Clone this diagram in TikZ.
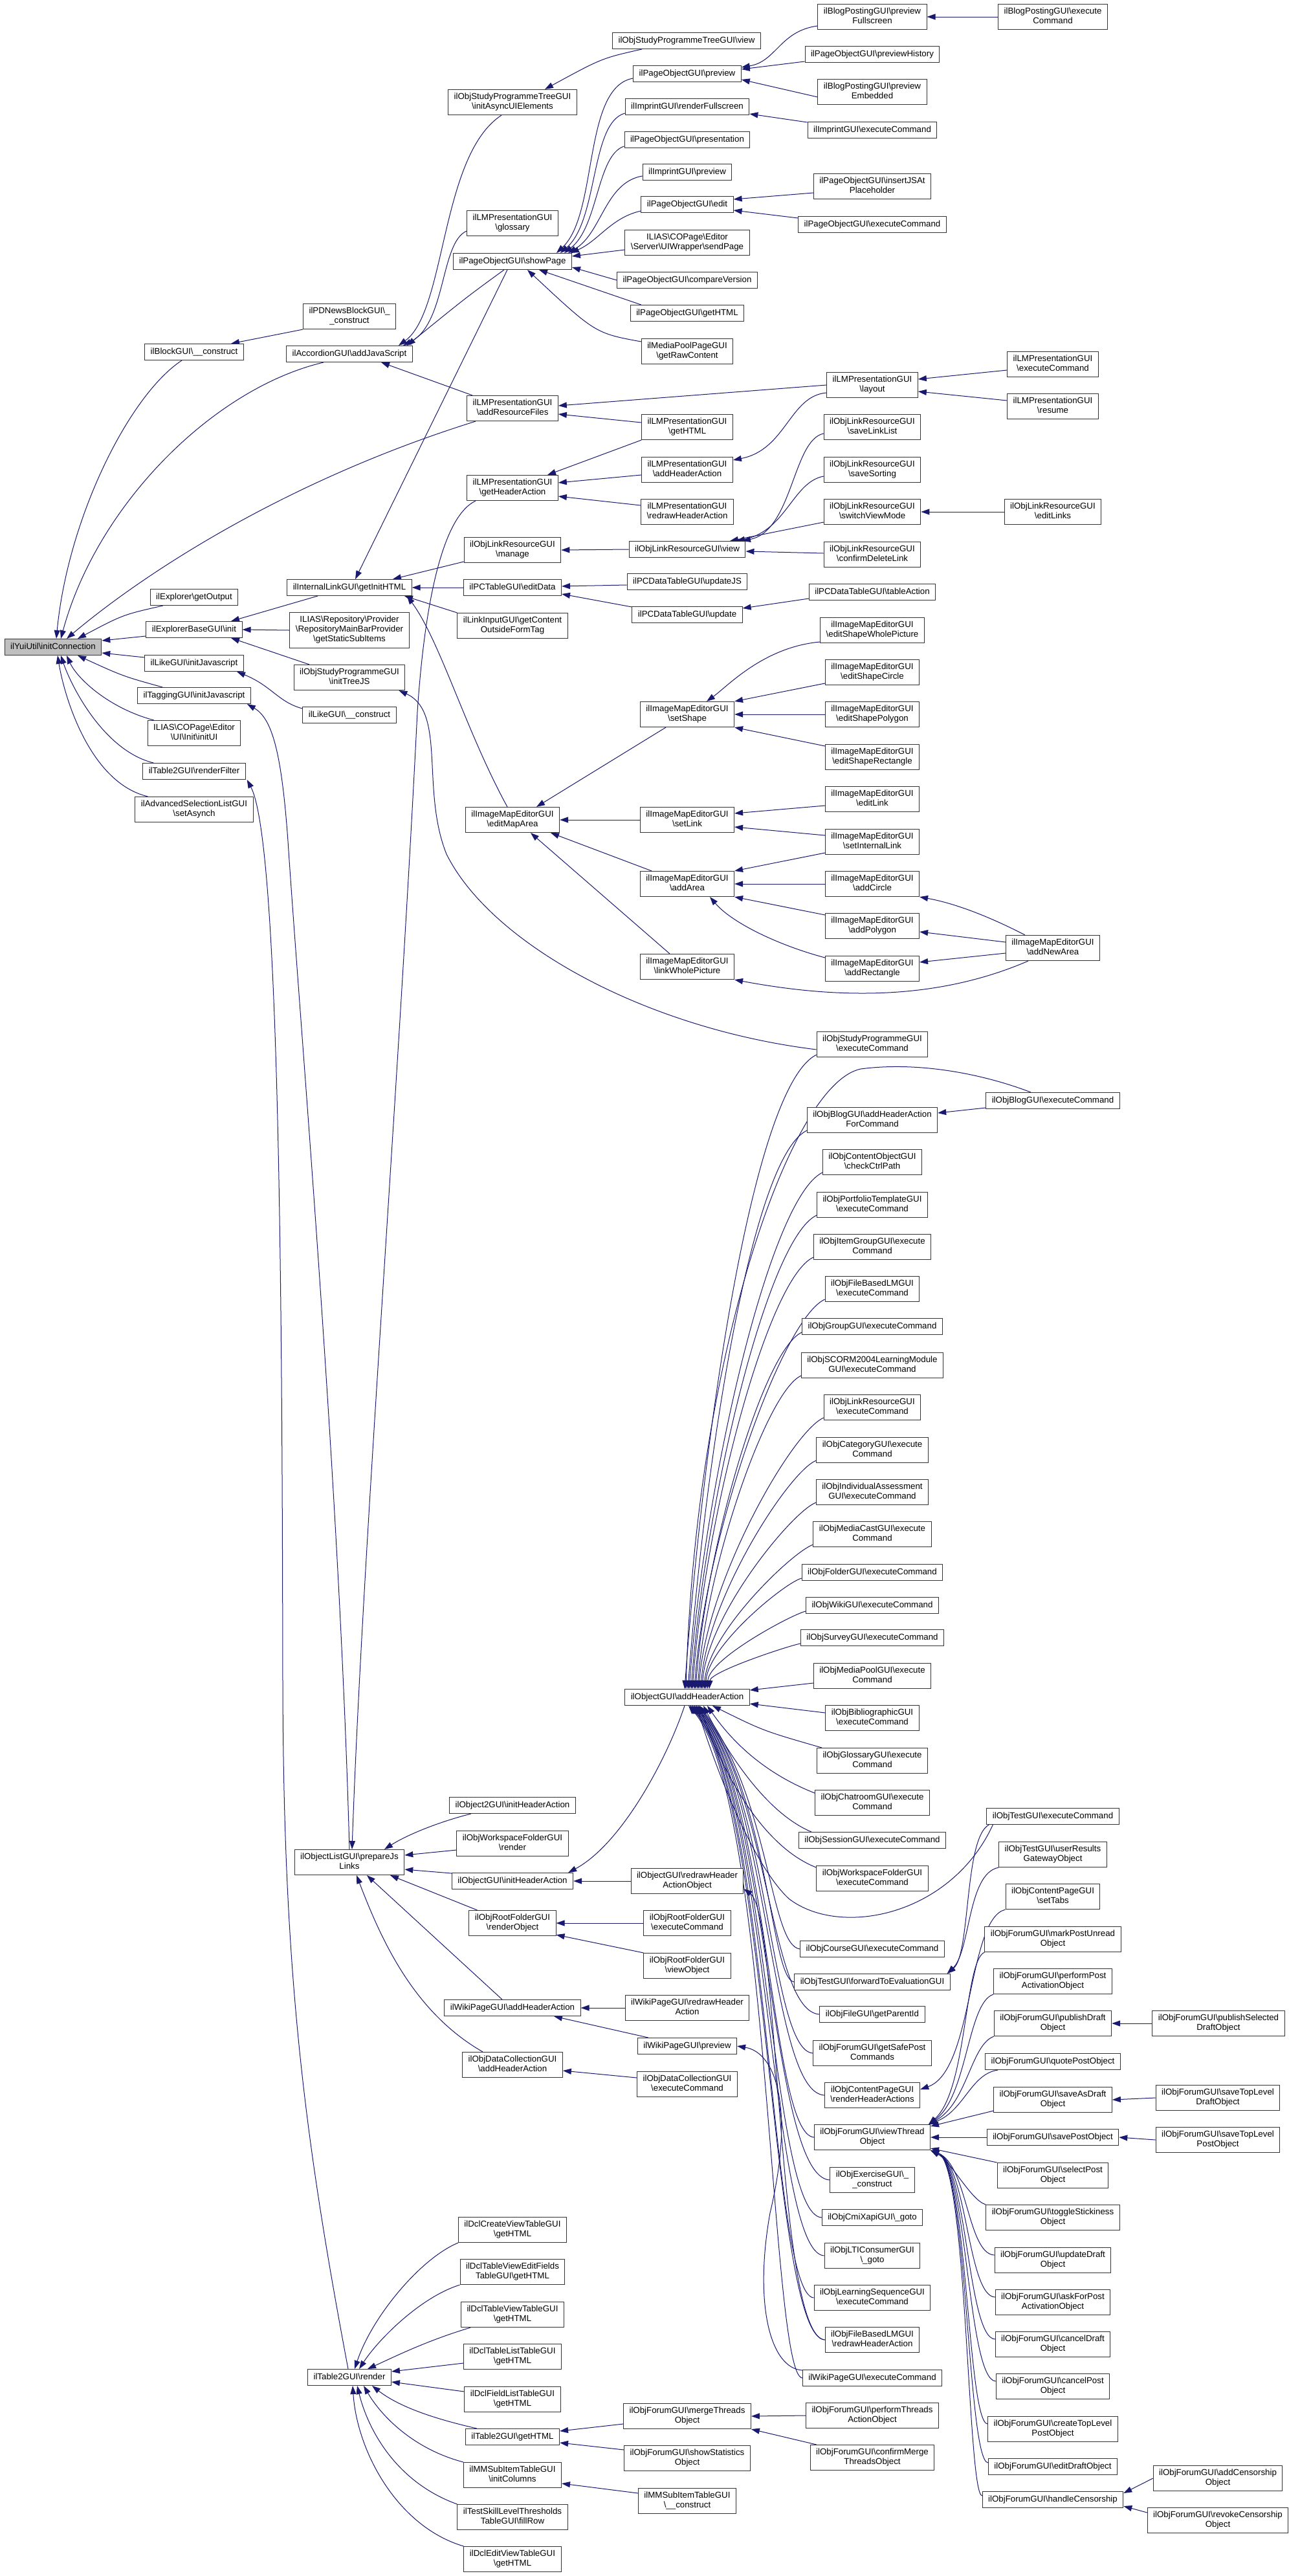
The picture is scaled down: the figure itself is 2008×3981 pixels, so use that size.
\documentclass[tikz,border=0pt]{standalone}
\usepackage{fontspec}
\newfontfamily\nodefam{Liberation Sans}
\usetikzlibrary{arrows.meta}
\definecolor{edgecol}{RGB}{25,25,112}
\definecolor{rootfill}{RGB}{191,191,191}
\newcommand{\BS}{\textbackslash}
\newcommand{\nodefont}{\nodefam\fontsize{13.3}{15}\selectfont}
\pgfdeclarelayer{bg}
\pgfsetlayers{bg,main}
\begin{document}
\begin{tikzpicture}[x=1pt,y=-1pt,
  nbox/.style={draw=black!80, line width=1pt, fill=white, font=\nodefont, align=center, inner xsep=9pt, inner ysep=5pt, execute at begin node=\strut, execute at end node=\strut},
  cedge/.style={draw=edgecol, line width=1pt, -{Triangle[length=13pt,width=9pt]}}]
\useasboundingbox (0,0) rectangle (2008,3981);
% ---------------- nodes ----------------
\node[nbox,fill=rootfill] (yui) at (82,1000) {ilYuiUtil\BS initConnection};
\node[nbox] (blockc) at (300,544) {ilBlockGUI\BS\_\_construct};
\node[nbox] (expout) at (300,923) {ilExplorer\BS getOutput};
\node[nbox] (expinit) at (300,973) {ilExplorerBaseGUI\BS init};
\node[nbox] (likejs) at (300,1025) {ilLikeGUI\BS initJavascript};
\node[nbox] (tagjs) at (300,1075) {ilTaggingGUI\BS initJavascript};
\node[nbox] (copinit) at (300,1133) {ILIAS\BS COPage\BS Editor\\\BS UI\BS Init\BS initUI};
\node[nbox] (rfilter) at (300,1192) {ilTable2GUI\BS renderFilter};
\node[nbox] (asynch) at (300,1251) {ilAdvancedSelectionListGUI\\\BS setAsynch};
% col C
\node[nbox] (pdnews) at (540,489) {ilPDNewsBlockGUI\BS\_\\\_construct};
\node[nbox] (accjs) at (540,547) {ilAccordionGUI\BS addJavaScript};
\node[nbox] (ilinit) at (540,908) {ilInternalLinkGUI\BS getInitHTML};
\node[nbox] (repo) at (540,974) {ILIAS\BS Repository\BS Provider\\\BS RepositoryMainBarProvider\\\BS getStaticSubItems};
\node[nbox] (treejs) at (540,1047) {ilObjStudyProgrammeGUI\\\BS initTreeJS};
\node[nbox] (likec) at (540,1105) {ilLikeGUI\BS\_\_construct};
\node[nbox] (prepjs) at (540,2878) {ilObjectListGUI\BS prepareJs\\Links};
\node[nbox] (t2render) at (540,3674) {ilTable2GUI\BS render};
% col D
\node[nbox] (asyncui) at (792,158) {ilObjStudyProgrammeTreeGUI\\\BS initAsyncUIElements};
\node[nbox] (glossary) at (792,345) {ilLMPresentationGUI\\\BS glossary};
\node[nbox] (showpage) at (792,404) {ilPageObjectGUI\BS showPage};
\node[nbox] (addres) at (792,631) {ilLMPresentationGUI\\\BS addResourceFiles};
\node[nbox] (gethdr) at (792,754) {ilLMPresentationGUI\\\BS getHeaderAction};
\node[nbox] (manage) at (792,850) {ilObjLinkResourceGUI\\\BS manage};
\node[nbox] (editdata) at (792,908) {ilPCTableGUI\BS editData};
\node[nbox] (linkinput) at (792,967) {ilLinkInputGUI\BS getContent\\OutsideFormTag};
\node[nbox] (editmap) at (792,1267) {ilImageMapEditorGUI\\\BS editMapArea};
\node[nbox] (o2init) at (792,2790) {ilObject2GUI\BS initHeaderAction};
\node[nbox] (wsrender) at (792,2849) {ilObjWorkspaceFolderGUI\\\BS render};
\node[nbox] (oinit) at (792,2907) {ilObjectGUI\BS initHeaderAction};
\node[nbox] (rfrender) at (792,2972) {ilObjRootFolderGUI\\\BS renderObject};
\node[nbox] (wikiadd) at (792,3103) {ilWikiPageGUI\BS addHeaderAction};
\node[nbox] (dcadd) at (792,3191) {ilObjDataCollectionGUI\\\BS addHeaderAction};
\node[nbox] (dclcreate) at (792,3446) {ilDclCreateViewTableGUI\\\BS getHTML};
\node[nbox] (dcledit) at (792,3511) {ilDclTableViewEditFields\\TableGUI\BS getHTML};
\node[nbox] (dcltv) at (792,3577) {ilDclTableViewTableGUI\\\BS getHTML};
\node[nbox] (dcltl) at (792,3642) {ilDclTableListTableGUI\\\BS getHTML};
\node[nbox] (dclfl) at (792,3708) {ilDclFieldListTableGUI\\\BS getHTML};
\node[nbox] (t2html) at (792,3766) {ilTable2GUI\BS getHTML};
\node[nbox] (mminit) at (792,3825) {ilMMSubItemTableGUI\\\BS initColumns};
\node[nbox] (testskill) at (792,3890) {ilTestSkillLevelThresholds\\TableGUI\BS fillRow};
\node[nbox] (dcleditview) at (792,3955) {ilDclEditViewTableGUI\\\BS getHTML};
% col E
\node[nbox] (treeview) at (1061,63) {ilObjStudyProgrammeTreeGUI\BS view};
\node[nbox] (poprev) at (1062,114) {ilPageObjectGUI\BS preview};
\node[nbox] (imfull) at (1062,165) {ilImprintGUI\BS renderFullscreen};
\node[nbox] (popres) at (1062,216) {ilPageObjectGUI\BS presentation};
\node[nbox] (imprev) at (1062,266) {ilImprintGUI\BS preview};
\node[nbox] (poedit) at (1062,316) {ilPageObjectGUI\BS edit};
\node[nbox] (sendpage) at (1062,375) {ILIAS\BS COPage\BS Editor\\\BS Server\BS UIWrapper\BS sendPage};
\node[nbox] (compver) at (1062,433) {ilPageObjectGUI\BS compareVersion};
\node[nbox] (pohtml) at (1062,484) {ilPageObjectGUI\BS getHTML};
\node[nbox] (mprc) at (1062,543) {ilMediaPoolPageGUI\\\BS getRawContent};
\node[nbox] (lmhtml) at (1062,660) {ilLMPresentationGUI\\\BS getHTML};
\node[nbox] (lmaddh) at (1062,726) {ilLMPresentationGUI\\\BS addHeaderAction};
\node[nbox] (lmredraw) at (1062,791) {ilLMPresentationGUI\\\BS redrawHeaderAction};
\node[nbox] (lrview) at (1062,849) {ilObjLinkResourceGUI\BS view};
\node[nbox] (updjs) at (1062,899) {ilPCDataTableGUI\BS updateJS};
\node[nbox] (update) at (1062,950) {ilPCDataTableGUI\BS update};
\node[nbox] (setshape) at (1062,1104) {ilImageMapEditorGUI\\\BS setShape};
\node[nbox] (setlink) at (1062,1267) {ilImageMapEditorGUI\\\BS setLink};
\node[nbox] (addarea) at (1062,1366) {ilImageMapEditorGUI\\\BS addArea};
\node[nbox] (linkwhole) at (1062,1494) {ilImageMapEditorGUI\\\BS linkWholePicture};
\node[nbox] (ahdr) at (1062,2623) {ilObjectGUI\BS addHeaderAction};
\node[nbox] (redrawobj) at (1062,2907) {ilObjectGUI\BS redrawHeader\\ActionObject};
\node[nbox] (rfexec) at (1062,2972) {ilObjRootFolderGUI\\\BS executeCommand};
\node[nbox] (rfview) at (1062,3038) {ilObjRootFolderGUI\\\BS viewObject};
\node[nbox] (wikiredraw) at (1062,3103) {ilWikiPageGUI\BS redrawHeader\\Action};
\node[nbox] (wikiprev) at (1062,3162) {ilWikiPageGUI\BS preview};
\node[nbox] (dcexec) at (1062,3221) {ilObjDataCollectionGUI\\\BS executeCommand};
\node[nbox] (merge) at (1062,3734) {ilObjForumGUI\BS mergeThreads\\Object};
\node[nbox] (stats) at (1062,3799) {ilObjForumGUI\BS showStatistics\\Object};
\node[nbox] (mmcons) at (1062,3865) {ilMMSubItemTableGUI\\\BS\_\_construct};
% col F
\node[nbox] (bpfull) at (1348,26) {ilBlogPostingGUI\BS preview\\Fullscreen};
\node[nbox] (prevhist) at (1348,84) {ilPageObjectGUI\BS previewHistory};
\node[nbox] (bpemb) at (1348,142) {ilBlogPostingGUI\BS preview\\Embedded};
\node[nbox] (imexec) at (1348,201) {ilImprintGUI\BS executeCommand};
\node[nbox] (insjs) at (1348,288) {ilPageObjectGUI\BS insertJSAt\\Placeholder};
\node[nbox] (poexec) at (1348,347) {ilPageObjectGUI\BS executeCommand};
\node[nbox] (layout) at (1348,595) {ilLMPresentationGUI\\\BS layout};
\node[nbox] (savell) at (1348,660) {ilObjLinkResourceGUI\\\BS saveLinkList};
\node[nbox] (savesort) at (1348,726) {ilObjLinkResourceGUI\\\BS saveSorting};
\node[nbox] (switchvm) at (1348,791) {ilObjLinkResourceGUI\\\BS switchViewMode};
\node[nbox] (confdel) at (1348,857) {ilObjLinkResourceGUI\\\BS confirmDeleteLink};
\node[nbox] (tableact) at (1348,915) {ilPCDataTableGUI\BS tableAction};
\node[nbox] (eswhole) at (1348,974) {ilImageMapEditorGUI\\\BS editShapeWholePicture};
\node[nbox] (escircle) at (1348,1039) {ilImageMapEditorGUI\\\BS editShapeCircle};
\node[nbox] (espoly) at (1348,1104) {ilImageMapEditorGUI\\\BS editShapePolygon};
\node[nbox] (esrect) at (1348,1170) {ilImageMapEditorGUI\\\BS editShapeRectangle};
\node[nbox] (editlink) at (1348,1235) {ilImageMapEditorGUI\\\BS editLink};
\node[nbox] (setint) at (1348,1301) {ilImageMapEditorGUI\\\BS setInternalLink};
\node[nbox] (addcircle) at (1348,1366) {ilImageMapEditorGUI\\\BS addCircle};
\node[nbox] (addpoly) at (1348,1431) {ilImageMapEditorGUI\\\BS addPolygon};
\node[nbox] (addrect) at (1348,1497) {ilImageMapEditorGUI\\\BS addRectangle};
\node[nbox] (spexec) at (1348,1614) {ilObjStudyProgrammeGUI\\\BS executeCommand};
\node[nbox] (blogahfc) at (1348,1731) {ilObjBlogGUI\BS addHeaderAction\\ForCommand};
\node[nbox] (checkctrl) at (1348,1796) {ilObjContentObjectGUI\\\BS checkCtrlPath};
\node[nbox] (portf) at (1348,1862) {ilObjPortfolioTemplateGUI\\\BS executeCommand};
\node[nbox] (itemgrp) at (1348,1927) {ilObjItemGroupGUI\BS execute\\Command};
\node[nbox] (fblmexec) at (1348,1992) {ilObjFileBasedLMGUI\\\BS executeCommand};
\node[nbox] (group) at (1348,2050) {ilObjGroupGUI\BS executeCommand};
\node[nbox] (scorm) at (1348,2110) {ilObjSCORM2004LearningModule\\GUI\BS executeCommand};
\node[nbox] (lrexec) at (1348,2175) {ilObjLinkResourceGUI\\\BS executeCommand};
\node[nbox] (category) at (1348,2241) {ilObjCategoryGUI\BS execute\\Command};
\node[nbox] (indiv) at (1348,2306) {ilObjIndividualAssessment\\GUI\BS executeCommand};
\node[nbox] (mediacast) at (1348,2371) {ilObjMediaCastGUI\BS execute\\Command};
\node[nbox] (folder) at (1348,2430) {ilObjFolderGUI\BS executeCommand};
\node[nbox] (wiki) at (1348,2481) {ilObjWikiGUI\BS executeCommand};
\node[nbox] (survey) at (1348,2531) {ilObjSurveyGUI\BS executeCommand};
\node[nbox] (mediapool) at (1348,2590) {ilObjMediaPoolGUI\BS execute\\Command};
\node[nbox] (biblio) at (1348,2655) {ilObjBibliographicGUI\\\BS executeCommand};
\node[nbox] (glossexec) at (1348,2721) {ilObjGlossaryGUI\BS execute\\Command};
\node[nbox] (chat) at (1348,2786) {ilObjChatroomGUI\BS execute\\Command};
\node[nbox] (session) at (1348,2844) {ilObjSessionGUI\BS executeCommand};
\node[nbox] (wsexec) at (1348,2903) {ilObjWorkspaceFolderGUI\\\BS executeCommand};
\node[nbox] (course) at (1348,3012) {ilObjCourseGUI\BS executeCommand};
\node[nbox] (fwdeval) at (1348,3063) {ilObjTestGUI\BS forwardToEvaluationGUI};
\node[nbox] (parentid) at (1348,3113) {ilObjFileGUI\BS getParentId};
\node[nbox] (safepost) at (1348,3173) {ilObjForumGUI\BS getSafePost\\Commands};
\node[nbox] (renderha) at (1348,3238) {ilObjContentPageGUI\\\BS renderHeaderActions};
\node[nbox] (viewthread) at (1348,3303) {ilObjForumGUI\BS viewThread\\Object};
\node[nbox] (exercise) at (1348,3369) {ilObjExerciseGUI\BS\_\\\_construct};
\node[nbox] (cmixapi) at (1348,3427) {ilObjCmiXapiGUI\BS\_goto};
\node[nbox] (lti) at (1348,3486) {ilObjLTIConsumerGUI\\\BS\_goto};
\node[nbox] (lseq) at (1348,3551) {ilObjLearningSequenceGUI\\\BS executeCommand};
\node[nbox] (fblmredraw) at (1348,3616) {ilObjFileBasedLMGUI\\\BS redrawHeaderAction};
\node[nbox] (wikiexec) at (1348,3675) {ilWikiPageGUI\BS executeCommand};
\node[nbox] (perfthreads) at (1348,3733) {ilObjForumGUI\BS performThreads\\ActionObject};
\node[nbox] (confmerge) at (1348,3798) {ilObjForumGUI\BS confirmMerge\\ThreadsObject};
% col G
\node[nbox] (bpexec) at (1627,26) {ilBlogPostingGUI\BS execute\\Command};
\node[nbox] (lmexec) at (1627,563) {ilLMPresentationGUI\\\BS executeCommand};
\node[nbox] (resume) at (1627,628) {ilLMPresentationGUI\\\BS resume};
\node[nbox] (editlinks) at (1627,791) {ilObjLinkResourceGUI\\\BS editLinks};
\node[nbox] (addnew) at (1627,1465) {ilImageMapEditorGUI\\\BS addNewArea};
\node[nbox] (blogexec) at (1627,1701) {ilObjBlogGUI\BS executeCommand};
\node[nbox] (testexec) at (1627,2807) {ilObjTestGUI\BS executeCommand};
\node[nbox] (userres) at (1627,2866) {ilObjTestGUI\BS userResults\\GatewayObject};
\node[nbox] (settabs) at (1627,2931) {ilObjContentPageGUI\\\BS setTabs};
\node[nbox] (markunread) at (1627,2997) {ilObjForumGUI\BS markPostUnread\\Object};
\node[nbox] (perfpost) at (1627,3062) {ilObjForumGUI\BS performPost\\ActivationObject};
\node[nbox] (pubdraft) at (1627,3127) {ilObjForumGUI\BS publishDraft\\Object};
\node[nbox] (quote) at (1627,3186) {ilObjForumGUI\BS quotePostObject};
\node[nbox] (saveasdraft) at (1627,3245) {ilObjForumGUI\BS saveAsDraft\\Object};
\node[nbox] (savepost) at (1627,3303) {ilObjForumGUI\BS savePostObject};
\node[nbox] (selectpost) at (1627,3362) {ilObjForumGUI\BS selectPost\\Object};
\node[nbox] (sticky) at (1627,3427) {ilObjForumGUI\BS toggleStickiness\\Object};
\node[nbox] (upddraft) at (1627,3493) {ilObjForumGUI\BS updateDraft\\Object};
\node[nbox] (askpost) at (1627,3558) {ilObjForumGUI\BS askForPost\\ActivationObject};
\node[nbox] (canceldraft) at (1627,3623) {ilObjForumGUI\BS cancelDraft\\Object};
\node[nbox] (cancelpost) at (1627,3688) {ilObjForumGUI\BS cancelPost\\Object};
\node[nbox] (createtop) at (1627,3754) {ilObjForumGUI\BS createTopLevel\\PostObject};
\node[nbox] (editdraft) at (1627,3812) {ilObjForumGUI\BS editDraftObject};
\node[nbox] (censor) at (1627,3863) {ilObjForumGUI\BS handleCensorship};
% col H
\node[nbox] (pubsel) at (1883,3127) {ilObjForumGUI\BS publishSelected\\DraftObject};
\node[nbox] (savetopdraft) at (1882,3242) {ilObjForumGUI\BS saveTopLevel\\DraftObject};
\node[nbox] (savetoppost) at (1882,3307) {ilObjForumGUI\BS saveTopLevel\\PostObject};
\node[nbox] (addcens) at (1882,3830) {ilObjForumGUI\BS addCensorship\\Object};
\node[nbox] (revcens) at (1882,3895) {ilObjForumGUI\BS revokeCensorship\\Object};
% ---------------- edges ----------------
\begin{pgfonlayer}{bg}
\fill[white] (0,0) rectangle (2008,3981);
% into ilYuiUtil
\draw[cedge] ([xshift=-19pt]blockc.south) .. controls (200,610) and (105,800) .. ([xshift=5pt]yui.north);
\draw[cedge] ([xshift=-40pt]accjs.south) .. controls (330,600) and (150,780) .. ([xshift=12pt]yui.north);
\draw[cedge] ([xshift=-57pt]addres.south) .. controls (450,740) and (230,880) .. ([xshift=21pt]yui.north);
\draw[cedge] ([xshift=20pt]expout.south west) .. controls (190,950) .. ([xshift=38pt]yui.north);
\draw[cedge] ([yshift=-10pt]expinit.west) -- ([yshift=10pt]yui.east);
\draw[cedge] ([yshift=9pt]likejs.west) -- ([yshift=-9pt]yui.east);
\draw[cedge] ([xshift=39pt]tagjs.north west) .. controls (190,1045) .. ([xshift=38pt]yui.south);
\draw[cedge] ([xshift=10pt]copinit.north west) .. controls (170,1095) and (120,1050) .. ([xshift=21pt]yui.south);
\draw[cedge] ([xshift=17pt]rfilter.north west) .. controls (160,1160) and (110,1060) .. ([xshift=12pt]yui.south);
\draw[cedge] ([xshift=20pt]asynch.north west) .. controls (140,1210) and (100,1080) .. ([xshift=7pt]yui.south);
% block / accordion
\draw[cedge] (pdnews.south west) -- ([xshift=57pt]blockc.north);
\draw[cedge] ([xshift=-17pt]asyncui.south) .. controls (680,240) and (690,480) .. ([xshift=76pt]accjs.north);
\draw[cedge] ([yshift=-12pt]glossary.west) .. controls (680,375) and (690,500) .. ([xshift=83pt]accjs.north);
\draw[cedge] ([xshift=-13pt]showpage.south) .. controls (720,460) .. ([xshift=89pt]accjs.north);
\draw[cedge] ([xshift=-62pt]addres.north) -- ([xshift=49pt]accjs.south);
% internal link / explorer
\draw[cedge] ([xshift=-8pt]showpage.south) -- ([xshift=9pt]ilinit.north);
\draw[cedge] ([yshift=-18pt]manage.west) -- ([xshift=67pt]ilinit.north);
\draw[cedge] (editdata.west) -- (ilinit.east);
\draw[cedge] (linkinput.north west) -- ([xshift=85pt]ilinit.south);
\draw[cedge] ([xshift=-8pt]editmap.north) .. controls (720,1130) and (680,990) .. ([xshift=89pt]ilinit.south);
\draw[cedge] ([xshift=-49pt]ilinit.south) -- ([xshift=57pt]expinit.north);
\draw[cedge] (repo.west) -- (expinit.east);
\draw[cedge] ([xshift=-62pt]treejs.north) -- ([xshift=57pt]expinit.south);
\draw[cedge] ([yshift=10pt]likec.west) .. controls (430,1085) and (420,1060) .. ([xshift=66pt]likejs.south);
\draw[cedge] ([yshift=-8pt]spexec.west) .. controls (1000,1590) and (760,1460) .. (690,1320) .. controls (650,1220) and (690,1100) .. ([xshift=-10pt]treejs.south east);
\draw[cedge] (prepjs.north) .. controls (525,2300) and (465,1600) .. (445,1300) .. controls (435,1160) and (420,1110) .. ([xshift=-6pt]tagjs.south east);
\draw[cedge] ([xshift=-2pt]t2render.north) .. controls (470,3300) and (438,3050) .. (437,2600) .. controls (436,2000) and (432,1300) .. ([xshift=2pt]rfilter.south east);
\draw[cedge] ([xshift=-57pt]gethdr.south) .. controls (680,800) and (655,950) .. (645,1100) .. controls (615,1700) and (560,2400) .. ([xshift=4pt]prepjs.north);
% showPage group
\draw[cedge] ([xshift=-69pt]treeview.south) .. controls (930,90) .. ([xshift=50pt]asyncui.north);
\draw[cedge] ([yshift=-7pt]poprev.west) .. controls (900,135) and (925,330) .. ([xshift=68pt]showpage.north);
\draw[cedge] ([yshift=-10pt]imfull.west) .. controls (912,190) and (925,340) .. ([xshift=74pt]showpage.north);
\draw[cedge] ([yshift=-10pt]popres.west) .. controls (922,240) and (925,350) .. ([xshift=80pt]showpage.north);
\draw[cedge] ([yshift=-6pt]imprev.west) .. controls (935,282) and (930,360) .. ([xshift=86pt]showpage.north);
\draw[cedge] ([yshift=-10pt]poedit.west) .. controls (945,336) and (925,372) .. ([xshift=-2pt]showpage.north east);
\draw[cedge] ([yshift=-11pt]sendpage.west) -- ([yshift=8pt]showpage.east);
\draw[cedge] (compver.west) -- ([yshift=-9pt]showpage.east);
\draw[cedge] ([xshift=17pt]pohtml.north west) -- ([xshift=41pt]showpage.south);
\draw[cedge] ([yshift=15pt]mprc.west) .. controls (920,515) .. ([xshift=23pt]showpage.south);
\draw[cedge] ([yshift=-14pt]bpfull.west) .. controls (1205,48) and (1200,95) .. ([yshift=10pt]poprev.east);
\draw[cedge] ([yshift=-11pt]prevhist.west) -- ([yshift=7pt]poprev.east);
\draw[cedge] ([yshift=-8pt]bpemb.west) -- ([yshift=-9pt]poprev.east);
\draw[cedge] ([yshift=12pt]imexec.west) -- ([yshift=-11pt]imfull.east);
\draw[cedge] ([yshift=-10pt]insjs.west) -- ([yshift=8pt]poedit.east);
\draw[cedge] ([yshift=10pt]poexec.west) -- ([yshift=-9pt]poedit.east);
\draw[cedge] (bpexec.west) -- (bpfull.east);
% LM presentation
\draw[cedge] (layout.west) -- ([yshift=4pt]addres.east);
\draw[cedge] ([yshift=7pt]lmhtml.west) -- ([yshift=-9pt]addres.east);
\draw[cedge] (lmhtml.south west) -- ([xshift=54pt]gethdr.north);
\draw[cedge] ([yshift=-8pt]lmaddh.west) -- ([yshift=8pt]gethdr.east);
\draw[cedge] ([yshift=10pt]lmredraw.west) -- ([yshift=-13pt]gethdr.east);
\draw[cedge] ([yshift=-12pt]layout.west) .. controls (1220,612) and (1215,695) .. ([yshift=15pt]lmaddh.east);
\draw[cedge] ([yshift=-9pt]lmexec.west) -- ([yshift=9pt]layout.east);
\draw[cedge] ([yshift=9pt]resume.west) -- ([yshift=-10pt]layout.east);
% link resource
\draw[cedge] (lrview.west) -- (manage.east);
\draw[cedge] ([yshift=-10pt]savell.west) .. controls (1225,680) and (1225,820) .. ([xshift=85pt]lrview.north);
\draw[cedge] ([yshift=-10pt]savesort.west) .. controls (1225,745) and (1215,820) .. ([xshift=76pt]lrview.north);
\draw[cedge] ([yshift=-16pt]switchvm.west) -- ([xshift=66pt]lrview.north);
\draw[cedge] ([yshift=2pt]confdel.west) -- ([yshift=-3pt]lrview.east);
\draw[cedge] (editlinks.west) -- (switchvm.east);
% data table
\draw[cedge] ([yshift=-5pt]updjs.west) -- ([yshift=2pt]editdata.east);
\draw[cedge] ([yshift=12pt]update.west) -- ([yshift=-10pt]editdata.east);
\draw[cedge] ([yshift=-10pt]tableact.west) -- ([yshift=10pt]update.east);
% image map
\draw[cedge] ([yshift=-18pt]eswhole.west) .. controls (1180,1000) and (1125,1060) .. ([xshift=30pt]setshape.north);
\draw[cedge] ([yshift=-17pt]escircle.west) -- (setshape.north east);
\draw[cedge] (espoly.west) -- (setshape.east);
\draw[cedge] ([yshift=17pt]esrect.west) -- (setshape.south east);
\draw[cedge] ([xshift=-33pt]setshape.south) -- ([xshift=37pt]editmap.north);
\draw[cedge] (setlink.west) -- (editmap.east);
\draw[cedge] ([xshift=-55pt]addarea.north) -- ([xshift=59pt]editmap.south);
\draw[cedge] ([xshift=-27pt]linkwhole.north) -- ([xshift=28pt]editmap.south);
\draw[cedge] ([yshift=-10pt]editlink.west) -- ([yshift=10pt]setlink.east);
\draw[cedge] ([yshift=10pt]setint.west) -- ([yshift=-11pt]setlink.east);
\draw[cedge] ([yshift=-17pt]setint.west) -- (addarea.north east);
\draw[cedge] (addcircle.west) -- (addarea.east);
\draw[cedge] ([yshift=17pt]addpoly.west) -- (addarea.south east);
\draw[cedge] ([yshift=17pt]addrect.west) .. controls (1200,1460) and (1130,1425) .. ([xshift=35pt]addarea.south);
\draw[cedge] ([xshift=-43pt]addnew.north) .. controls (1520,1412) and (1470,1395) .. (addcircle.south east);
\draw[cedge] ([yshift=9pt]addnew.west) -- ([yshift=-9pt]addpoly.east);
\draw[cedge] ([yshift=-8pt]addnew.west) -- ([yshift=10pt]addrect.east);
\draw[cedge] ([xshift=-38pt]addnew.south) .. controls (1450,1545) and (1300,1545) .. (linkwhole.south east);
% blog
\draw[cedge] ([yshift=-11pt]blogexec.west) -- ([yshift=11pt]blogahfc.east);
\draw[cedge] ([xshift=-34pt]blogexec.north) .. controls (1520,1660) and (1420,1640) .. (1330,1652) .. controls (1220,1675) and (1075,2100) .. ([xshift=-2pt]ahdr.north);
% into addHeaderAction from above
\draw[cedge] ([yshift=4pt]spexec.south west) .. controls (1163,1679) and (1087,2217) .. ([xshift=-4pt]ahdr.north);
\draw[cedge] ([yshift=4pt]blogahfc.south west) .. controls (1160,1790) and (1089,2266) .. ([xshift=1pt]ahdr.north);
\draw[cedge] ([yshift=4pt]checkctrl.south west) .. controls (1189,1852) and (1089,2292) .. ([xshift=3pt]ahdr.north);
\draw[cedge] ([yshift=4pt]portf.south west) .. controls (1186,1914) and (1090,2318) .. ([xshift=6pt]ahdr.north);
\draw[cedge] ([yshift=4pt]itemgrp.south west) .. controls (1186,1976) and (1090,2344) .. ([xshift=8pt]ahdr.north);
\draw[cedge] ([yshift=4pt]fblmexec.south west) .. controls (1209,2038) and (1091,2370) .. ([xshift=11pt]ahdr.north);
\draw[cedge] ([yshift=4pt]group.south west) .. controls (1180,2086) and (1091,2391) .. ([xshift=13pt]ahdr.north);
\draw[cedge] ([yshift=4pt]scorm.south west) .. controls (1186,2149) and (1092,2417) .. ([xshift=16pt]ahdr.north);
\draw[cedge] ([yshift=4pt]lrexec.south west) .. controls (1224,2212) and (1092,2443) .. ([xshift=18pt]ahdr.north);
\draw[cedge] ([yshift=4pt]category.south west) .. controls (1219,2274) and (1093,2470) .. ([xshift=21pt]ahdr.north);
\draw[cedge] ([yshift=4pt]indiv.south west) .. controls (1224,2336) and (1093,2496) .. ([xshift=23pt]ahdr.north);
\draw[cedge] ([yshift=4pt]mediacast.south west) .. controls (1225,2398) and (1095,2522) .. ([xshift=26pt]ahdr.north);
\draw[cedge] ([yshift=4pt]folder.south west) .. controls (1213,2446) and (1095,2542) .. ([xshift=28pt]ahdr.north);
\draw[cedge] ([yshift=4pt]wiki.south west) .. controls (1224,2495) and (1096,2563) .. ([xshift=31pt]ahdr.north);
\draw[cedge] ([yshift=4pt]survey.south west) .. controls (1220,2543) and (1098,2583) .. ([xshift=34pt]ahdr.north);
\draw[cedge] ([yshift=-11pt]mediapool.west) -- ([yshift=11pt]ahdr.east);
\draw[cedge] ([yshift=8pt]biblio.west) -- ([yshift=-10pt]ahdr.east);
% into addHeaderAction from below
\draw[cedge] ([xshift=8pt]glossexec.north west) .. controls (1180,2675) .. ([xshift=39pt]ahdr.south);
\draw[cedge] ([yshift=15pt]chat.west) .. controls (1180,2740) and (1130,2690) .. ([xshift=31pt]ahdr.south);
\draw[cedge] ([xshift=20pt]session.north west) .. controls (1180,2800) and (1120,2700) .. ([xshift=25pt]ahdr.south);
\draw[cedge] ([yshift=17pt]wsexec.west) .. controls (1170,2850) and (1110,2720) .. ([xshift=19pt]ahdr.south);
\draw[cedge] ([xshift=10pt]testexec.south west) .. controls (1470,2960) and (1300,2995) .. (1220,2935) .. controls (1170,2890) and (1115,2760) .. ([xshift=14pt]ahdr.south);
\draw[cedge] (course.west) .. controls (1190,3007) and (1190,2780) .. ([xshift=19pt]ahdr.south);
\draw[cedge] (fwdeval.west) .. controls (1190,3058) and (1190,2780) .. ([xshift=17pt]ahdr.south);
\draw[cedge] (parentid.west) .. controls (1190,3108) and (1190,2780) .. ([xshift=16pt]ahdr.south);
\draw[cedge] (safepost.west) .. controls (1190,3168) and (1190,2780) .. ([xshift=14pt]ahdr.south);
\draw[cedge] (renderha.west) .. controls (1190,3233) and (1190,2780) .. ([xshift=13pt]ahdr.south);
\draw[cedge] (viewthread.west) .. controls (1190,3298) and (1190,2780) .. ([xshift=11pt]ahdr.south);
\draw[cedge] (exercise.west) .. controls (1190,3364) and (1190,2780) .. ([xshift=10pt]ahdr.south);
\draw[cedge] (cmixapi.west) .. controls (1190,3422) and (1190,2780) .. ([xshift=8pt]ahdr.south);
\draw[cedge] (lti.west) .. controls (1190,3481) and (1190,2780) .. ([xshift=7pt]ahdr.south);
\draw[cedge] (lseq.west) .. controls (1190,3546) and (1190,2780) .. ([xshift=5pt]ahdr.south);
\draw[cedge] (fblmredraw.west) .. controls (1190,3611) and (1190,2780) .. ([xshift=4pt]ahdr.south);
\draw[cedge] (wikiexec.west) .. controls (1190,3670) and (1190,2780) .. ([xshift=2pt]ahdr.south);
% forum
\draw[cedge] (markunread.south west) .. controls (1490,3030) and (1495,3230) .. ([xshift=-3pt]viewthread.north east);
\draw[cedge] (perfpost.south west) .. controls (1495,3095) and (1495,3240) .. ([xshift=-3pt]viewthread.north east);
\draw[cedge] (pubdraft.south west) .. controls (1500,3160) and (1495,3250) .. ([xshift=-3pt]viewthread.north east);
\draw[cedge] ([xshift=20pt]quote.south west) .. controls (1500,3205) and (1490,3262) .. ([xshift=-3pt]viewthread.north east);
\draw[cedge] ([yshift=3pt]saveasdraft.south west) -- ([yshift=-3pt]viewthread.north east);
\draw[cedge] (savepost.west) -- (viewthread.east);
\draw[cedge] (selectpost.north west) -- ([yshift=3pt]viewthread.south east);
\draw[cedge] (sticky.north west) .. controls (1500,3400) and (1470,3340) .. (viewthread.south east);
\draw[cedge] ([yshift=8pt]upddraft.west) .. controls (1495,3483) and (1495,3345) .. (viewthread.south east);
\draw[cedge] ([yshift=8pt]askpost.west) .. controls (1495,3548) and (1495,3345) .. (viewthread.south east);
\draw[cedge] ([yshift=8pt]canceldraft.west) .. controls (1495,3613) and (1495,3345) .. (viewthread.south east);
\draw[cedge] ([yshift=8pt]cancelpost.west) .. controls (1495,3678) and (1495,3345) .. (viewthread.south east);
\draw[cedge] ([yshift=8pt]createtop.west) .. controls (1495,3744) and (1495,3345) .. (viewthread.south east);
\draw[cedge] ([yshift=6pt]editdraft.west) .. controls (1495,3804) and (1495,3345) .. (viewthread.south east);
\draw[cedge] ([yshift=6pt]censor.west) .. controls (1495,3855) and (1495,3345) .. (viewthread.south east);
\draw[cedge] ([xshift=4pt]testexec.south west) .. controls (1490,2840) and (1500,3020) .. ([xshift=-5pt]fwdeval.north east);
\draw[cedge] (userres.south west) .. controls (1495,2895) and (1500,3015) .. ([xshift=-5pt]fwdeval.north east);
\draw[cedge] (settabs.south west) .. controls (1495,2965) and (1505,3200) .. ([yshift=9pt]renderha.east);
\draw[cedge] (pubsel.west) -- (pubdraft.east);
\draw[cedge] (savetopdraft.west) -- (saveasdraft.east);
\draw[cedge] (savetoppost.west) -- (savepost.east);
\draw[cedge] (addcens.west) -- ([yshift=-3pt]censor.north east);
\draw[cedge] ([yshift=12pt]revcens.west) -- ([yshift=3pt]censor.south east);
% object list / header actions
\draw[cedge] ([xshift=-4pt]ahdr.south) .. controls (1030,2720) and (960,2850) .. ([xshift=-8pt]oinit.north east);
\draw[cedge] (redrawobj.west) -- (oinit.east);
\draw[cedge] (fblmredraw.west) .. controls (1200,3610) and (1205,2960) .. ([yshift=-12pt]redrawobj.east);
\draw[cedge] (rfexec.west) -- (rfrender.east);
\draw[cedge] (rfview.north west) -- ([yshift=2pt]rfrender.south east);
\draw[cedge] (wikiredraw.west) -- (wikiadd.east);
\draw[cedge] ([xshift=17pt]wikiprev.north west) -- ([xshift=64pt]wikiadd.south);
\draw[cedge] ([yshift=10pt]dcexec.west) -- ([yshift=-9pt]dcadd.east);
\draw[cedge] ([yshift=12pt]wikiexec.west) .. controls (1190,3660) and (1165,3560) .. (1190,3420) .. controls (1228,3260) and (1200,3172) .. (wikiprev.east);
\draw[cedge] ([xshift=-64pt]o2init.south) .. controls (680,2815) and (630,2835) .. ([xshift=54pt]prepjs.north);
\draw[cedge] ([yshift=-10pt]wsrender.west) -- ([yshift=11pt]prepjs.east);
\draw[cedge] ([yshift=12pt]oinit.west) -- ([yshift=-11pt]prepjs.east);
\draw[cedge] ([xshift=13pt]rfrender.north west) -- ([xshift=63pt]prepjs.south);
\draw[cedge] ([xshift=-16pt]wikiadd.north) -- ([xshift=27pt]prepjs.south);
\draw[cedge] ([xshift=-46pt]dcadd.north) .. controls (640,3110) and (590,3000) .. ([xshift=11pt]prepjs.south);
% tables
\draw[cedge] (dclcreate.south west) .. controls (650,3490) and (575,3580) .. ([xshift=8pt]t2render.north);
\draw[cedge] (dcledit.south west) .. controls (650,3550) and (585,3615) .. ([xshift=15pt]t2render.north);
\draw[cedge] ([xshift=15pt]dcltv.south west) .. controls (660,3617) and (610,3642) .. ([xshift=28pt]t2render.north);
\draw[cedge] ([yshift=-10pt]dcltl.west) -- ([yshift=9pt]t2render.east);
\draw[cedge] ([yshift=12pt]dclfl.west) -- ([yshift=-7pt]t2render.east);
\draw[cedge] ([xshift=18pt]t2html.north west) .. controls (680,3740) and (620,3722) .. ([xshift=35pt]t2render.south);
\draw[cedge] (mminit.north west) .. controls (640,3785) and (590,3735) .. ([xshift=22pt]t2render.south);
\draw[cedge] (testskill.north west) .. controls (610,3835) and (568,3752) .. ([xshift=12pt]t2render.south);
\draw[cedge] (dcleditview.north west) .. controls (615,3905) and (552,3790) .. ([xshift=5pt]t2render.south);
\draw[cedge] ([yshift=-12pt]merge.west) -- ([yshift=9pt]t2html.east);
\draw[cedge] ([yshift=13pt]stats.west) -- ([yshift=-9pt]t2html.east);
\draw[cedge] (perfthreads.west) -- (merge.east);
\draw[cedge] ([xshift=10pt]confmerge.north west) -- (merge.south east);
\draw[cedge] ([yshift=12pt]mmcons.west) -- ([yshift=-13pt]mminit.east);
\end{pgfonlayer}
\end{tikzpicture}
\end{document}
